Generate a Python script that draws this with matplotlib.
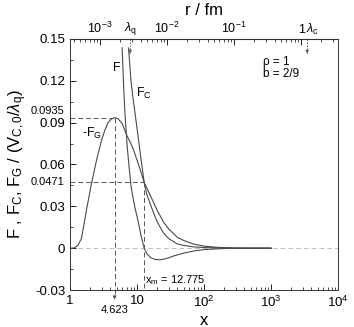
import numpy as np
import matplotlib
matplotlib.use('Agg')
import matplotlib.pyplot as plt
from matplotlib.ticker import FixedLocator, LogLocator, NullFormatter, MultipleLocator

plt.rcParams['font.family'] = ['Liberation Sans', 'DejaVu Sans']
plt.rcParams['mathtext.fontset'] = 'custom'
plt.rcParams['mathtext.rm'] = 'Liberation Sans'
plt.rcParams['mathtext.it'] = 'Liberation Sans:italic'

# -F_G
x_g = [1.0, 1.15, 1.3, 1.47, 1.6, 1.75, 2.08, 2.47, 2.93, 3.3, 3.69, 4.1, 4.623, 5.2, 6.0,
       7.0, 8.0, 9.0, 10.0, 11.0, 12.775, 14, 15, 17.5, 20, 25, 30, 40, 50, 70, 100,
       150, 200, 300, 500, 1000]
g = [0.0, 0.0002, 0.0018, 0.0067, 0.016, 0.027, 0.046, 0.0626, 0.077, 0.0845, 0.090,
     0.0925, 0.0935, 0.0928, 0.0893, 0.081, 0.0755, 0.0695, 0.063, 0.057, 0.0471, 0.043,
     0.040, 0.033, 0.027, 0.0185, 0.0135, 0.0078, 0.0055, 0.0029, 0.0015, 0.0007, 0.0004,
     0.00015, 0.00005, 0.0]

# F
x_f = [5.98, 6.25, 6.55, 7.1, 7.6, 8.1, 8.7, 9.3, 10.3, 11.4, 12.775, 14, 16, 18.6, 22,
       25, 30, 35, 40, 50, 70, 100, 150, 200, 300, 500, 1000]
f = [0.1436, 0.120, 0.0986, 0.0736, 0.058, 0.045, 0.036, 0.029, 0.020, 0.0095, 0.0,
     -0.004, -0.0068, -0.0081, -0.0083, -0.0079, -0.0068, -0.0056, -0.0048, -0.0035,
     -0.0020, -0.0010, -0.0005, -0.00025, -0.0001, -0.00003, 0.0]

# F_C
x_c = [7.45, 7.8, 8.1, 8.7, 9.3, 10.3, 11.4, 12.775, 14, 15, 17.5, 20, 25, 30, 40, 50,
       70, 100, 150, 200, 300, 500, 1000]
fc = [0.1436, 0.131, 0.120, 0.1075, 0.097, 0.081, 0.0645, 0.0471, 0.0385, 0.0345, 0.0256,
      0.0188, 0.0106, 0.0067, 0.003, 0.002, 0.0009, 0.0005, 0.0002, 0.00015, 0.00005,
      0.00002, 0.0]

x_peak, g_peak = 4.623, 0.0935
x_m, f_m = 12.775, 0.0471
k_r = 3.55e-4          # r / fm per unit x
r_lq, r_lc = 2.79e-3, 1.23

fig = plt.figure(figsize=(3.54, 3.27), dpi=100)
ax = fig.add_axes([0.198, 0.113, 0.757, 0.768])

col = '#4a4a4a'
dcol = '#555555'
ax.axhline(0, color='#c0c0c0', lw=0.7, ls=(0, (5, 3)), zorder=1)
ax.plot(x_g, g, color=col, lw=0.8)
ax.plot(x_f, f, color=col, lw=0.8)
ax.plot(x_c, fc, color=col, lw=0.8)

# dashed guides
ax.plot([1, x_peak], [g_peak, g_peak], color=dcol, lw=0.7, ls=(0, (5, 3)))
ax.plot([1, x_m], [f_m, f_m], color=dcol, lw=0.7, ls=(0, (5, 3)))
ax.plot([x_m, x_m], [f_m, -0.03], color=dcol, lw=0.7, ls=(0, (5, 3)))
ax.plot([x_peak, x_peak], [g_peak, -0.0345], color=dcol, lw=0.7, ls=(0, (5, 3)),
        clip_on=False)
ax.annotate('', xy=(x_peak, -0.0368), xytext=(x_peak, -0.0338),
            arrowprops=dict(arrowstyle='-|>', color=dcol, lw=0.6, mutation_scale=5),
            annotation_clip=False)
ax.text(x_peak, -0.0405, '4.623', ha='center', va='top', fontsize=8)
ax.text(13.3, -0.023, r'x$_\mathrm{m}$ = 12.775', ha='left', va='center', fontsize=8)

ax.text(-0.02, g_peak + 0.001, '0.0935', transform=ax.get_yaxis_transform(),
        ha='right', va='bottom', fontsize=8)
ax.text(-0.02, f_m, '0.0471', transform=ax.get_yaxis_transform(),
        ha='right', va='center', fontsize=8)

# curve labels
ax.text(4.9, 0.129, 'F', fontsize=9, ha='center', va='center')
ax.text(9.8, 0.111, r'F$_\mathrm{C}$', fontsize=9, ha='left', va='center')
ax.text(2.1, 0.082, r'-F$_\mathrm{G}$', fontsize=9, ha='center', va='center')
ax.text(0.72, 0.93, 'ρ = 1\nb = 2/9', transform=ax.transAxes, fontsize=8.5,
        ha='left', va='top', linespacing=1.0)

ax.set_xscale('log')
ax.set_xlim(1, 1e4)
ax.set_ylim(-0.03, 0.15)
ax.set_xticks([1, 10, 100, 1000, 10000])
ax.set_xticklabels(['1', '10', '10$^2$', '10$^3$', '10$^4$'])
ax.xaxis.set_minor_locator(LogLocator(base=10, subs=np.arange(2, 10)))
ax.xaxis.set_minor_formatter(NullFormatter())
ax.set_yticks([-0.03, 0, 0.03, 0.06, 0.09, 0.12, 0.15])
ax.set_yticklabels(['-0.03', '0', '0.03', '0.06', '0.09', '0.12', '0.15'])
ax.yaxis.set_minor_locator(MultipleLocator(0.015))
ax.tick_params(which='both', direction='in', top=False, right=False, labelsize=9.5)
ax.tick_params(which='major', length=4, width=0.6)
ax.tick_params(which='minor', length=2, width=0.5)
for s in ax.spines.values():
    s.set_linewidth(0.7)
    s.set_color('#333333')

ax.set_xlabel('x', fontsize=12, labelpad=2)
ax.set_ylabel(r'F , F$_\mathrm{C}$, F$_\mathrm{G}$ / (V$_\mathrm{C,0}$/$\lambda_\mathrm{q}$)',
              fontsize=12, labelpad=4)

sec = ax.secondary_xaxis('top', functions=(lambda x: x * k_r, lambda r: r / k_r))
sec.xaxis.set_major_locator(FixedLocator([1e-3, 1e-2, 1e-1, 1]))
sec.set_xticklabels(['10$^{-3}$', '10$^{-2}$', '10$^{-1}$', '1'])
sec.xaxis.set_minor_locator(LogLocator(base=10, subs=np.arange(2, 10)))
sec.xaxis.set_minor_formatter(NullFormatter())
sec.tick_params(which='both', direction='in', labelsize=9, pad=2)
sec.tick_params(which='major', length=4, width=0.6)
sec.tick_params(which='minor', length=2, width=0.5)
sec.set_xlabel('r / fm', fontsize=12, labelpad=4)

# lambda markers on top axis
for r0, lab, ha, dx in [(r_lq, r'$\lambda_\mathrm{q}$', 'center', 1.0),
                        (r_lc, r'$\lambda_\mathrm{c}$', 'left', 0.97)]:
    x0 = r0 / k_r
    ax.plot([x0, x0], [0.15, 0.143], color=dcol, lw=0.6, ls=(0, (2, 1.5)))
    ax.annotate('', xy=(x0, 0.1395), xytext=(x0, 0.142),
                arrowprops=dict(arrowstyle='-|>', color=dcol, lw=0.5, mutation_scale=5))
    ax.text(x0 * dx, 0.1515, lab, ha=ha, va='bottom', fontsize=9)

fig.savefig('out.png', dpi=100)
